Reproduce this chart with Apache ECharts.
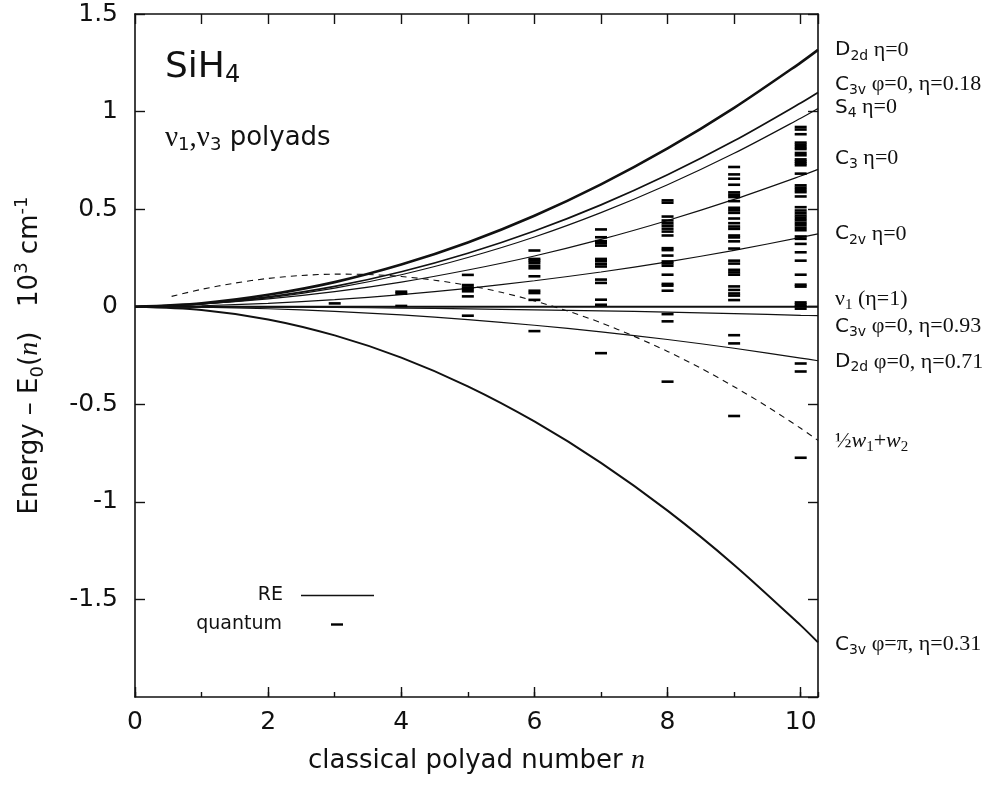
<!DOCTYPE html>
<html><head><meta charset="utf-8">
<script src="https://cdn.jsdelivr.net/npm/echarts@6/dist/echarts.min.js"></script>
<style>html,body{margin:0;padding:0;background:#fff}#c{width:987px;height:787px}</style>
</head><body><div id="c"></div>
<script>
// ---- data ----
const nGrid = [0, 1, 2, 3, 4, 5, 6, 7, 8, 9, 10, 10.26];
const reD2d0   = [0, 0.018, 0.061, 0.126, 0.216, 0.329, 0.466, 0.627, 0.811, 1.019, 1.251, 1.316];
const reC3v018 = [0, 0.015, 0.050, 0.104, 0.179, 0.274, 0.388, 0.522, 0.676, 0.850, 1.044, 1.098];
const reS4     = [0, 0.013, 0.045, 0.095, 0.164, 0.252, 0.357, 0.482, 0.625, 0.786, 0.966, 1.016];
const reC3     = [0, 0.014, 0.040, 0.077, 0.126, 0.188, 0.260, 0.345, 0.442, 0.550, 0.670, 0.704];
const reC2v    = [0, 0.005, 0.017, 0.036, 0.062, 0.094, 0.133, 0.178, 0.230, 0.289, 0.355, 0.373];
const reNu1    = [0, 0, 0, 0, 0, 0, 0, 0, 0, 0, 0, 0];
const reC3v093 = [0, -0.0004, -0.0017, -0.004, -0.007, -0.011, -0.016, -0.021, -0.028, -0.035, -0.044, -0.046];
const reD2d071 = [0, -0.0026, -0.0105, -0.024, -0.042, -0.066, -0.095, -0.129, -0.168, -0.213, -0.263, -0.277];
const reC3vPi  = [0, -0.0163, -0.065, -0.147, -0.261, -0.408, -0.588, -0.800, -1.045, -1.323, -1.633, -1.720];

const wN    = [0.55, 1, 1.5, 2, 2.5, 3, 3.5, 4, 4.5, 5, 5.5, 6, 6.5, 7, 7.5, 8, 8.5, 9, 9.5, 10, 10.26];
const wVals = [0.053, 0.089, 0.121, 0.145, 0.160, 0.167, 0.165, 0.155, 0.136, 0.109, 0.074, 0.030, -0.022, -0.082, -0.152, -0.229, -0.315, -0.410, -0.512, -0.623, -0.685];

const polyadN = [3, 4, 5, 6, 7, 8, 9, 10];
const q3  = [0.017];
const q4  = [0.067, 0.077, 0.004];
const q5  = [0.163, 0.111, 0.099, 0.091, 0.079, 0.053, -0.046];
const q6  = [0.288, 0.245, 0.236, 0.225, 0.210, 0.197, 0.156, 0.082, 0.070, 0.035, -0.125];
const q7  = [0.396, 0.356, 0.336, 0.325, 0.313, 0.245, 0.233, 0.219, 0.206, 0.139, 0.122, 0.036, 0.010, -0.238];
const q8  = [0.545, 0.533, 0.462, 0.442, 0.428, 0.415, 0.400, 0.385, 0.365, 0.300, 0.290, 0.262, 0.232, 0.222, 0.210, 0.164, 0.117, 0.108, 0.082, -0.038, -0.075, -0.384];
const q9  = [0.716, 0.678, 0.656, 0.625, 0.586, 0.574, 0.562, 0.541, 0.507, 0.494, 0.481, 0.452, 0.428, 0.411, 0.399, 0.365, 0.355, 0.335, 0.298, 0.236, 0.221, 0.189, 0.176, 0.164, 0.104, 0.086, 0.068, 0.057, 0.034, -0.146, -0.188, -0.560];
const q10 = [0.921, 0.908, 0.884, 0.841, 0.830, 0.818, 0.808, 0.788, 0.776, 0.755, 0.745, 0.735, 0.725, 0.682, 0.622, 0.610, 0.598, 0.587, 0.565, 0.510, 0.493, 0.480, 0.467, 0.455, 0.443, 0.430, 0.418, 0.405, 0.392, 0.360, 0.348, 0.322, 0.279, 0.236, 0.164, 0.113, 0.103, 0.022, 0.012, 0.002, -0.010, -0.291, -0.332, -0.774];
const quantumLevels = [q3, q4, q5, q6, q7, q8, q9, q10];

const xTicks = [0, 2, 4, 6, 8, 10];
const yTicks = [-1.5, -1, -0.5, 0, 0.5, 1, 1.5];

// ---- styling ----
const SANS = 'DejaVu Sans';
const SERIF = 'Liberation Serif';
const INK = '#111';

const labelRich = {
  s:  { fontFamily: SANS, fontSize: 20, color: INK, lineHeight: 26 },
  b:  { fontFamily: SANS, fontSize: 14, color: INK, lineHeight: 8, verticalAlign: 'bottom' },
  t:  { fontFamily: SERIF, fontSize: 22, color: INK, lineHeight: 26 },
  bt: { fontFamily: SERIF, fontSize: 15, color: INK, lineHeight: 8, verticalAlign: 'bottom' },
  i:  { fontFamily: SERIF, fontSize: 22, fontStyle: 'italic', color: INK, lineHeight: 26 }
};

function pairs(xs, ys) { return xs.map((x, i) => [x, ys[i]]); }

function reSeries(name, ys, width, text, dy) {
  return {
    name: name,
    type: 'line',
    data: pairs(nGrid, ys),
    smooth: 0.3,
    showSymbol: false,
    symbol: 'none',
    lineStyle: { color: INK, width: width },
    itemStyle: { color: INK },
    z: 3,
    endLabel: {
      show: true, formatter: text, distance: 17, offset: [0, dy],
      align: 'left', verticalAlign: 'middle', rich: labelRich
    }
  };
}

const quantumData = [];
polyadN.forEach((n, k) => quantumLevels[k].forEach(v => quantumData.push([n, v])));

const option = {
  animation: false,
  backgroundColor: '#fff',
  grid: { left: 135, right: 169, top: 14, bottom: 90 },
  title: [
    { text: '{a|SiH}{b|4}', left: 165, top: 48, padding: 0,
      textStyle: { fontWeight: 'normal', rich: {
        a: { fontFamily: SANS, fontSize: 36, fontWeight: 'normal', color: INK, lineHeight: 40 },
        b: { fontFamily: SANS, fontSize: 24, fontWeight: 'normal', color: INK, lineHeight: 12, verticalAlign: 'bottom' } } } },
    { text: '{g|ν}{sb|1}{g|,ν}{sb|3}{p| polyads}', left: 165, top: 122, padding: 0,
      textStyle: { fontWeight: 'normal', rich: {
        g: { fontFamily: SERIF, fontSize: 29, fontWeight: 'normal', color: INK, lineHeight: 32 },
        sb: { fontFamily: SANS, fontSize: 18, fontWeight: 'normal', color: INK, lineHeight: 10, verticalAlign: 'bottom' },
        p: { fontFamily: SANS, fontSize: 26, fontWeight: 'normal', color: INK, lineHeight: 32 } } } }
  ],
  legend: [
    { data: [{ name: 'RE', icon: 'rect' }], align: 'right', right: 613, top: 586, padding: 0,
      itemWidth: 73, itemHeight: 1.6, selectedMode: false,
      textStyle: { fontFamily: SANS, fontSize: 19, color: INK, padding: [0, 13, 0, 0] } },
    { data: [{ name: 'quantum', icon: 'rect' }], align: 'right', right: 644, top: 615, padding: 0,
      itemWidth: 12, itemHeight: 2.4, selectedMode: false,
      textStyle: { fontFamily: SANS, fontSize: 19, color: INK, padding: [0, 44, 0, 0] } }
  ],
  xAxis: [
    { type: 'value', min: 0, max: 10.26, interval: 2, position: 'bottom',
      axisLine: { onZero: false, lineStyle: { color: INK, width: 1.6 } },
      axisTick: { inside: true, length: 10, lineStyle: { color: INK, width: 1.4 } },
      axisLabel: { fontFamily: SANS, fontSize: 25, color: INK, margin: 13, showMaxLabel: false,
        formatter: v => (xTicks.indexOf(v) >= 0 ? String(v) : '') },
      splitLine: { show: false },
      name: '{t|classical polyad number }{it|n}', nameLocation: 'middle', nameGap: 50,
      nameTextStyle: { rich: {
        t: { fontFamily: SANS, fontSize: 26, color: INK },
        it: { fontFamily: SERIF, fontSize: 28, fontStyle: 'italic', color: INK } } } },
    { type: 'value', min: 0, max: 10.26, interval: 1, position: 'bottom',
      axisLine: { show: false, onZero: false },
      axisTick: { inside: true, length: 5, lineStyle: { color: INK, width: 1.4 } },
      axisLabel: { show: false }, splitLine: { show: false } },
    { type: 'value', min: 0, max: 10.26, interval: 1, position: 'top',
      axisLine: { onZero: false, lineStyle: { color: INK, width: 1.6 } },
      axisTick: { inside: true, length: 10, lineStyle: { color: INK, width: 1.4 } },
      axisLabel: { show: false }, splitLine: { show: false } }
  ],
  yAxis: [
    { type: 'value', min: -2, max: 1.5, interval: 0.5, position: 'left',
      axisLine: { onZero: false, lineStyle: { color: INK, width: 1.6 } },
      axisTick: { inside: true, length: 10, lineStyle: { color: INK, width: 1.4 } },
      axisLabel: { fontFamily: SANS, fontSize: 25, color: INK, margin: 17, showMinLabel: false,
        formatter: v => (yTicks.indexOf(v) >= 0 ? String(v) : '') },
      splitLine: { show: false },
      name: '{t|Energy – E}{sb|0}{t|(}{it|n}{t|)   10}{sp|3}{t| cm}{sp|-1}',
      nameLocation: 'middle', nameRotate: 90, nameGap: 88,
      nameTextStyle: { rich: {
        t: { fontFamily: SANS, fontSize: 26, color: INK, lineHeight: 34 },
        it: { fontFamily: SERIF, fontSize: 28, fontStyle: 'italic', color: INK, lineHeight: 34 },
        sb: { fontFamily: SANS, fontSize: 18, color: INK, lineHeight: 10, verticalAlign: 'bottom' },
        sp: { fontFamily: SANS, fontSize: 18, color: INK, lineHeight: 14, verticalAlign: 'top' } } } },
    { type: 'value', min: -2, max: 1.5, interval: 0.5, position: 'right',
      axisLine: { onZero: false, lineStyle: { color: INK, width: 1.6 } },
      axisTick: { inside: true, length: 10, lineStyle: { color: INK, width: 1.4 } },
      axisLabel: { show: false }, splitLine: { show: false } }
  ],
  series: [
    reSeries('RE', reD2d0, 2.6, '{s|D}{b|2d}{t| η=0}', 0),
    reSeries('RE', reC3v018, 1.7, '{s|C}{b|3v}{t| φ=0, η=0.18}', -8),
    reSeries('RE', reS4, 1.2, '{s|S}{b|4}{t| η=0}', -1),
    reSeries('RE', reC3, 1.2, '{s|C}{b|3}{t| η=0}', -11),
    reSeries('RE', reC2v, 1.2, '{s|C}{b|2v}{t| η=0}', 0),
    reSeries('RE', reNu1, 2.0, '{t|ν}{bt|1}{t| (η=1)}', -7),
    reSeries('RE', reC3v093, 1.2, '{s|C}{b|3v}{t| φ=0, η=0.93}', 11),
    reSeries('RE', reD2d071, 1.2, '{s|D}{b|2d}{t| φ=0, η=0.71}', 1),
    reSeries('RE', reC3vPi, 2.0, '{s|C}{b|3v}{t| φ=π, η=0.31}', 2),
    { name: 'w1w2', type: 'line', data: pairs(wN, wVals), smooth: 0.3, showSymbol: false, symbol: 'none',
      lineStyle: { color: INK, width: 1.1, type: [6, 5] }, z: 2,
      endLabel: { show: true, formatter: '{t|½}{i|w}{bt|1}{t|+}{i|w}{bt|2}', distance: 17, offset: [0, 1],
        align: 'left', verticalAlign: 'middle', rich: labelRich } },
    { name: 'quantum', type: 'scatter', data: quantumData, symbol: 'rect', symbolSize: [12, 2.6],
      itemStyle: { color: '#000', opacity: 1 }, z: 4 }
  ]
};

const chart = echarts.init(document.getElementById('c'), null, { renderer: 'canvas' });
chart.setOption(option);
</script>
</body></html>
